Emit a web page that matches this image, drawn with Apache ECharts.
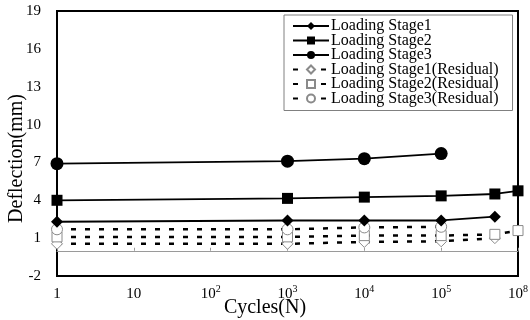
<!DOCTYPE html>
<html><head><meta charset="utf-8">
<script src="https://cdn.jsdelivr.net/npm/echarts@6/dist/echarts.min.js"></script>
<style>html,body{margin:0;padding:0;background:#fff}#c{width:530px;height:320px}</style>
</head><body><div id="c"></div>
<script>
const xTickLabels = ['1', '10', '10^2', '10^3', '10^4', '10^5', '10^8'];
const yTicks = [-2, 1, 4, 7, 10, 13, 16, 19];
const seriesNames = ['Loading Stage1', 'Loading Stage2', 'Loading Stage3',
  'Loading Stage1(Residual)', 'Loading Stage2(Residual)', 'Loading Stage3(Residual)'];
const cyclesS1 = [1, 1e3, 1e4, 1e5, 5e5];
const cyclesS2 = [1, 1e3, 1e4, 1e5, 5e5, 1e6];
const cyclesS3 = [1, 1e3, 1e4, 1e5];
const stage1 = [2.3, 2.4, 2.4, 2.4, 2.7];
const stage2 = [4.0, 4.15, 4.25, 4.35, 4.5, 4.75];
const stage3 = [6.9, 7.1, 7.3, 7.7];
const stage1Res = [0.55, 0.55, 0.7, 0.75, 1.0];
const stage2Res = [1.1, 1.1, 1.2, 1.2, 1.3, 1.6];
const stage3Res = [1.7, 1.7, 1.85, 1.9];

const FONT = '"Liberation Serif", "Times New Roman", serif';
const pts = (xs, ys) => xs.map((c, i) => [Math.log10(c), ys[i]]);
function tickLabel(v) {
  const t = xTickLabels[Math.round(v)];
  if (t === undefined) return '';
  const p = t.split('^');
  return p.length > 1 ? '{b|' + p[0] + '}{s|' + p[1] + '}' : '{b|' + t + '}';
}
function solid(name, xs, ys, symbol, size) {
  return { name, type: 'line', data: pts(xs, ys), symbol, symbolSize: size,
    lineStyle: { color: '#000', width: 1.8 }, itemStyle: { color: '#000' }, z: 3 };
}
function dashed(name, xs, ys, symbol, size) {
  return { name, type: 'line', data: pts(xs, ys), symbol, symbolSize: size,
    lineStyle: { color: '#000', width: 2.5, type: [5, 9] },
    itemStyle: { color: '#fff', borderColor: '#8a8a8a', borderWidth: 1 }, z: 2 };
}
const chart = echarts.init(document.getElementById('c'), null, { renderer: 'canvas' });
const series = [
  solid(seriesNames[0], cyclesS1, stage1, 'diamond', 12),
  solid(seriesNames[1], cyclesS2, stage2, 'rect', 11),
  solid(seriesNames[2], cyclesS3, stage3, 'circle', 13),
  dashed(seriesNames[3], cyclesS1, stage1Res, 'diamond', 11),
  dashed(seriesNames[4], cyclesS2, stage2Res, 'rect', 10),
  dashed(seriesNames[5], cyclesS3, stage3Res, 'circle', 11)
];
chart.setOption({
  animation: false,
  textStyle: { fontFamily: FONT },
  grid: { left: 57, right: 12, top: 11, bottom: 44, show: true, borderColor: '#000', borderWidth: 2,
    containLabel: false, outerBoundsMode: 'none' },
  legend: {
    orient: 'vertical', left: 284, top: 15,
    data: seriesNames,
    itemWidth: 36, itemHeight: 10, itemGap: -1.5,
    padding: [3, 14, 4, 8],
    borderColor: '#808080', borderWidth: 1, backgroundColor: '#fff',
    textStyle: { fontFamily: FONT, fontSize: 16, color: '#000', lineHeight: 14, padding: [0, 0, 0, -3] }
  },
  xAxis: [{
    type: 'value', min: 0, max: 6, interval: 1,
    name: 'Cycles(N)', nameLocation: 'middle', nameGap: 22, nameMoveOverlap: false,
    nameTextStyle: { fontFamily: FONT, fontSize: 20, color: '#000', padding: [0, 45, 0, 0] },
    axisLine: { onZero: false, lineStyle: { color: '#000', width: 2 } },
    axisTick: { show: false }, splitLine: { show: false },
    axisLabel: {
      margin: 8, formatter: tickLabel, color: '#000',
      rich: {
        b: { fontFamily: FONT, fontSize: 15, color: '#000', lineHeight: 20 },
        s: { fontFamily: FONT, fontSize: 10, color: '#000', lineHeight: 10, verticalAlign: 'top' }
      }
    }
  }, {
    type: 'value', min: 0, max: 6, interval: 1, position: 'bottom',
    axisLine: { onZero: true, lineStyle: { color: '#9a9a9a', width: 1 } },
    axisTick: { show: true, inside: true, length: 3, lineStyle: { color: '#9a9a9a' } },
    axisLabel: { show: false }, splitLine: { show: false }
  }],
  yAxis: {
    type: 'value', min: -2, max: 19,
    name: 'Deflection(mm)', nameLocation: 'middle', nameGap: 30, nameMoveOverlap: false,
    nameTextStyle: { fontFamily: FONT, fontSize: 20, color: '#000', padding: [0, 30, 0, 0] },
    axisLine: { onZero: false, lineStyle: { color: '#000', width: 2 } },
    axisTick: { show: false }, splitLine: { show: false },
    axisLabel: { customValues: yTicks, margin: 16, fontFamily: FONT, fontSize: 15, color: '#000' }
  },
  series
});
</script></body></html>
